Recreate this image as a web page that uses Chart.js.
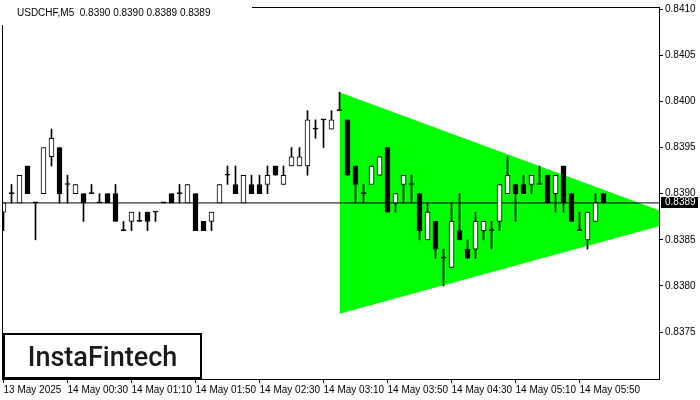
<!DOCTYPE html>
<html>
<head>
<meta charset="utf-8">
<script src="https://cdn.jsdelivr.net/npm/chart.js@4.4.1/dist/chart.umd.min.js"></script>
<style>
  html, body { margin: 0; padding: 0; background: #fff; }
  #wrap { width: 700px; height: 400px; }
</style>
</head>
<body>
<div id="wrap"><canvas id="chart" width="700" height="400"></canvas></div>
<script>
// chart title and axis labels
const chartTitle = 'USDCHF,M5  0.8390 0.8390 0.8389 0.8389';
const timeLabels = ['13 May 2025', '14 May 00:30', '14 May 01:10', '14 May 01:50', '14 May 02:30',
                    '14 May 03:10', '14 May 03:50', '14 May 04:30', '14 May 05:10', '14 May 05:50'];
const labelEvery = 8; // one time label every 8 bars
const priceTicks = [0.8375, 0.8380, 0.8385, 0.8390, 0.8395, 0.8400, 0.8405, 0.8410];
const currentPrice = 0.8389;

// M5 bars, oldest first
const opens  = [0.8388, 0.8390, 0.8389, 0.8393, 0.8389, 0.8390, 0.8394, 0.8395, 0.8391, 0.8390,
                0.8390, 0.8390, 0.8389, 0.8390, 0.8390, 0.8386, 0.8387, 0.8387, 0.8388, 0.8388,
                0.8389, 0.8390, 0.8390, 0.8389, 0.8390, 0.8387, 0.8387, 0.8389, 0.8392, 0.8391,
                0.8389, 0.8391, 0.8391, 0.8391, 0.8393, 0.8391, 0.8393, 0.8393, 0.8393, 0.8397,
                0.8398, 0.8397, 0.8399, 0.8398, 0.8393, 0.8390, 0.8391, 0.8392, 0.8395, 0.8389,
                0.8391, 0.8391, 0.8390, 0.8385, 0.8387, 0.8383, 0.8382, 0.8386, 0.8384, 0.8384,
                0.8386, 0.8386, 0.8387, 0.8390, 0.8391, 0.8391, 0.8391, 0.8391, 0.8392, 0.8390,
                0.8393, 0.8390, 0.8386, 0.8385, 0.8387, 0.8390];
const highs  = [0.8389, 0.8391, 0.8392, 0.8393, 0.8389, 0.8395, 0.8397, 0.8395, 0.8392, 0.8391,
                0.8390, 0.8391, 0.8390, 0.8390, 0.8391, 0.8387, 0.8388, 0.8388, 0.8388, 0.8388,
                0.8389, 0.8390, 0.8391, 0.8391, 0.8390, 0.8387, 0.8388, 0.8391, 0.8393, 0.8393,
                0.8392, 0.8392, 0.8392, 0.8393, 0.8393, 0.8393, 0.8395, 0.8395, 0.8399, 0.8398,
                0.8398, 0.8399, 0.8401, 0.8398, 0.8393, 0.8391, 0.8393, 0.8394, 0.8395, 0.8390,
                0.8392, 0.8392, 0.8390, 0.8389, 0.8387, 0.8384, 0.8389, 0.8390, 0.8385, 0.8388,
                0.8387, 0.8387, 0.8391, 0.8394, 0.8391, 0.8392, 0.8392, 0.8393, 0.8392, 0.8392,
                0.8393, 0.8390, 0.8388, 0.8388, 0.8390, 0.8390];
const lows   = [0.8386, 0.8389, 0.8389, 0.8390, 0.8385, 0.8390, 0.8393, 0.8389, 0.8389, 0.8390,
                0.8387, 0.8390, 0.8389, 0.8389, 0.8387, 0.8386, 0.8386, 0.8387, 0.8386, 0.8387,
                0.8389, 0.8389, 0.8389, 0.8389, 0.8386, 0.8386, 0.8386, 0.8389, 0.8391, 0.8390,
                0.8389, 0.8390, 0.8390, 0.8390, 0.8392, 0.8391, 0.8393, 0.8393, 0.8392, 0.8396,
                0.8395, 0.8397, 0.8399, 0.8392, 0.8389, 0.8389, 0.8391, 0.8392, 0.8388, 0.8388,
                0.8389, 0.8389, 0.8385, 0.8385, 0.8383, 0.8380, 0.8382, 0.8385, 0.8383, 0.8383,
                0.8385, 0.8384, 0.8386, 0.8390, 0.8387, 0.8390, 0.8390, 0.8391, 0.8389, 0.8388,
                0.8388, 0.8387, 0.8386, 0.8384, 0.8387, 0.8389];
const closes = [0.8389, 0.8390, 0.8392, 0.8390, 0.8389, 0.8395, 0.8396, 0.8390, 0.8391, 0.8391,
                0.8389, 0.8390, 0.8389, 0.8389, 0.8387, 0.8386, 0.8388, 0.8387, 0.8387, 0.8388,
                0.8389, 0.8389, 0.8390, 0.8391, 0.8386, 0.8386, 0.8388, 0.8391, 0.8392, 0.8390,
                0.8392, 0.8390, 0.8390, 0.8392, 0.8392, 0.8392, 0.8394, 0.8394, 0.8398, 0.8397,
                0.8398, 0.8398, 0.8399, 0.8392, 0.8391, 0.8390, 0.8393, 0.8394, 0.8388, 0.8390,
                0.8392, 0.8391, 0.8386, 0.8388, 0.8384, 0.8383, 0.8387, 0.8385, 0.8383, 0.8387,
                0.8387, 0.8386, 0.8391, 0.8392, 0.8390, 0.8390, 0.8392, 0.8391, 0.8389, 0.8392,
                0.8389, 0.8387, 0.8386, 0.8388, 0.8389, 0.8389];

// symmetrical triangle pattern: [bar index, price]
const triangleTop    = [[42, 0.84010], [85.06, 0.83872]];
const triangleBottom = [[42, 0.83770], [85.06, 0.83872]];

const xMin = -0.0625, xMax = 81.9375;
const axisFont = { family: 'Liberation Sans', size: 10 };

const wickData = highs.map((h, i) => ({ x: i, y: [lows[i], h] }));
const bodyData = opens.map((o, i) => ({ x: i, y: [o, closes[i]] }));
const bodyColors = opens.map((o, i) => closes[i] > o ? '#ffffff' : '#000000');

const decorations = {
    id: 'decorations',
    afterDraw(chart) {
        const { ctx, chartArea: a, scales } = chart;
        ctx.save();
        // plot frame
        ctx.strokeStyle = '#000';
        ctx.lineWidth = 1;
        ctx.strokeRect(a.left - 0.5, a.top - 0.5, a.right - a.left + 1, a.bottom - a.top + 1);

        // title, on its own white strip over the frame corner
        ctx.fillStyle = '#fff';
        ctx.fillRect(0, 0, 252, 25);
        ctx.fillStyle = '#000';
        ctx.font = '10px "Liberation Sans"';
        ctx.textBaseline = 'alphabetic';
        ctx.textAlign = 'left';
        ctx.fillText(chartTitle, 17, 15.5);

        // current price tag on the price axis
        const py = Math.floor(scales.y.getPixelForValue(currentPrice));
        ctx.fillStyle = '#000';
        ctx.fillRect(a.right + 2, py - 5, 37, 11);
        ctx.fillStyle = '#fff';
        ctx.textBaseline = 'middle';
        ctx.fillText(currentPrice.toFixed(4), a.right + 6, py + 0.5);

        // logo
        ctx.fillStyle = '#fff';
        ctx.fillRect(3, 333, 199, 46);
        ctx.strokeStyle = '#000';
        ctx.lineWidth = 2;
        ctx.strokeRect(4, 334, 197, 44);
        ctx.fillStyle = '#1a1a1a';
        ctx.font = '500 27px Roboto';
        ctx.textAlign = 'center';
        ctx.textBaseline = 'alphabetic';
        ctx.fillText('InstaFintech', 102.5, 366, 160);
        ctx.restore();
    }
};

new Chart(document.getElementById('chart'), {
    type: 'bar',
    data: {
        datasets: [
            {
                type: 'line', order: 5,
                data: triangleTop.map(p => ({ x: p[0], y: p[1] })),
                borderWidth: 0, pointRadius: 0, fill: false
            },
            {
                type: 'line', order: 4,
                data: triangleBottom.map(p => ({ x: p[0], y: p[1] })),
                borderWidth: 0, pointRadius: 0,
                fill: '-1', backgroundColor: '#00ff00'
            },
            {
                type: 'line', order: 3,
                data: [{ x: xMin, y: currentPrice }, { x: xMax, y: currentPrice }],
                borderColor: '#000', borderWidth: 1, pointRadius: 0, fill: false
            },
            {
                order: 2, grouped: false,
                data: wickData,
                backgroundColor: '#000', borderWidth: 0, barThickness: 1
            },
            {
                order: 1, grouped: false,
                data: bodyData,
                backgroundColor: bodyColors, borderColor: '#000', borderWidth: 1,
                borderSkipped: false, barThickness: 5, minBarLength: 1
            }
        ]
    },
    options: {
        responsive: false,
        animation: false,
        devicePixelRatio: 1,
        layout: { padding: { left: 3, top: 3, right: 0, bottom: 0 } },
        plugins: { legend: { display: false }, tooltip: { enabled: false } },
        scales: {
            x: {
                type: 'linear', min: xMin, max: xMax, offset: false,
                afterBuildTicks: s => { s.ticks = timeLabels.map((_, i) => ({ value: i * labelEvery })); },
                afterFit: s => { s.height = 21; },
                grid: { offset: false, drawOnChartArea: false, drawTicks: true, tickLength: 4, color: '#000' },
                border: { display: false },
                ticks: {
                    autoSkip: false, maxRotation: 0, align: 'start', padding: 1,
                    color: '#000', font: axisFont,
                    callback: (v, i) => timeLabels[i]
                }
            },
            y: {
                type: 'linear', position: 'right', min: 0.836992, max: 0.841012,
                afterBuildTicks: s => { s.ticks = priceTicks.map(v => ({ value: v })); },
                afterFit: s => { s.width = 41; },
                grid: { drawOnChartArea: false, drawTicks: true, tickLength: 4, color: '#000' },
                border: { display: false },
                ticks: { padding: 2, color: '#000', font: axisFont, callback: v => v.toFixed(4) }
            }
        }
    },
    plugins: [decorations]
});
</script>
</body>
</html>
